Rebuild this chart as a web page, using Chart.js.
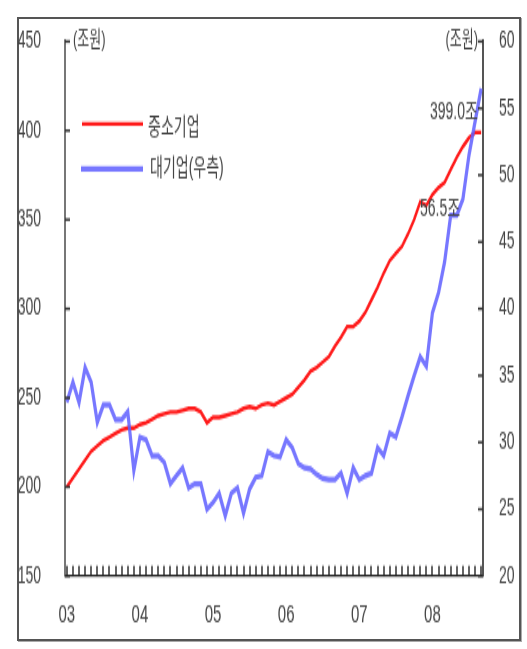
<!DOCTYPE html>
<html lang="ko">
<head>
<meta charset="UTF-8">
<title>중소기업·대기업 대출 잔액</title>
<script src="https://cdn.jsdelivr.net/npm/chart.js@4"></script>
<style>
    body { margin: 0; background: #fff; }
    .frame {
        position: absolute; left: 17px; top: 17px;
        width: 500px; height: 620px;
        border: 2px solid #555; box-shadow: 1px 1px 0 #aaa;
    }
    /* the chart is drawn short and stretched tall, like the printed original */
    #loanChart { position: absolute; left: 0; top: 0; transform: scaleY(1.7); transform-origin: 0 0; }
</style>
</head>
<body>
<div class="frame"></div>
<canvas id="loanChart" width="527" height="382"></canvas>
<script>
// year labels, one per January (month index 0, 12, 24 ...)
const yearLabels = ['03', '04', '05', '06', '07', '08'];

// 중소기업 대출 잔액, 조원, monthly from Jan 2003 (left axis)
const smeLoans = [
    200, 205, 210, 215, 220, 223, 226, 228, 230, 232, 233, 233,
    235, 236, 238, 240, 241, 242, 242, 243, 244, 244, 242, 236,
    239, 239, 240, 241, 242, 244, 245, 244, 246, 247, 246, 248,
    250, 252, 256, 260, 265, 267, 270, 273, 279, 284, 290, 290,
    293, 298, 305, 312, 320, 327, 331, 335, 342, 350, 360, 358,
    364, 368, 371, 378, 385, 391, 396, 399, 399.0
];

// 대기업 대출 잔액, 조원, monthly from Jan 2003 (right axis)
const largeLoans = [
    33.0, 34.5, 33.0, 35.6, 34.5, 31.5, 32.8, 32.8, 31.7, 31.7, 32.3, 27.9,
    30.4, 30.2, 29.0, 29.0, 28.5, 26.9, 27.5, 28.1, 26.6, 26.9, 26.9, 25.0,
    25.5, 26.2, 24.5, 26.2, 26.6, 24.7, 26.5, 27.4, 27.5, 29.3, 29.0, 28.9,
    30.2, 29.6, 28.4, 28.1, 28.0, 27.6, 27.3, 27.2, 27.2, 27.7, 26.2, 28.1,
    27.2, 27.5, 27.7, 29.6, 29.0, 30.7, 30.4, 31.9, 33.5, 35.0, 36.4, 35.7,
    39.7, 41.2, 43.5, 47.0, 47.0, 48.2, 51.5, 54.0, 56.5
];

const FONT = '"Liberation Sans", "Noto Sans CJK KR", sans-serif';
const TEXT = '#444';
Chart.defaults.font.family = FONT;
Chart.defaults.color = TEXT;

const toPoints = arr => arr.map((v, i) => ({ x: i, y: v }));

// inside tick marks, legend and value notes
const decorations = {
    id: 'decorations',
    afterDraw(chart) {
        const { ctx, chartArea: a, scales } = chart;
        ctx.save();
        ctx.strokeStyle = '#333';
        ctx.lineWidth = 1.5;
        scales.y.ticks.forEach(t => {
            const py = scales.y.getPixelForValue(t.value);
            ctx.beginPath(); ctx.moveTo(a.left, py); ctx.lineTo(a.left + 5, py); ctx.stroke();
        });
        scales.y1.ticks.forEach(t => {
            const py = scales.y1.getPixelForValue(t.value);
            ctx.beginPath(); ctx.moveTo(a.right - 5, py); ctx.lineTo(a.right, py); ctx.stroke();
        });
        ctx.strokeStyle = '#222';
        ctx.lineWidth = 1.4;
        for (let i = 0; i < smeLoans.length; i++) {
            const px = Math.round(scales.x.getPixelForValue(i));
            ctx.beginPath(); ctx.moveTo(px, a.bottom - 6); ctx.lineTo(px, a.bottom); ctx.stroke();
        }

        // legend
        const ds = chart.data.datasets;
        const rows = [
            { d: ds[1], x0: 82, x1: 143, y: 72.9, tx: 148, ty: 75 },
            { d: ds[0], x0: 81, x1: 143, y: 99.4, tx: 150, ty: 99 }
        ];
        ctx.font = '14px ' + FONT;
        ctx.textBaseline = 'middle';
        ctx.textAlign = 'left';
        rows.forEach(r => {
            ctx.strokeStyle = r.d.borderColor;
            ctx.lineWidth = r.d.borderWidth;
            ctx.beginPath(); ctx.moveTo(r.x0, r.y); ctx.lineTo(r.x1, r.y); ctx.stroke();
            ctx.fillStyle = TEXT;
            ctx.fillText(r.d.label, r.tx, r.ty);
        });

        // units and end values
        ctx.font = '13px ' + FONT;
        ctx.fillText('(조원)', 73, 23.5);
        ctx.textAlign = 'right';
        ctx.fillText('(조원)', 478, 23.5);
        ctx.font = '14px ' + FONT;
        ctx.textAlign = 'left';
        ctx.fillText(smeLoans[smeLoans.length - 1].toFixed(1) + '조', 430, 66);
        ctx.fillText(largeLoans[largeLoans.length - 1].toFixed(1) + '조', 420, 123.5);
        ctx.restore();
    }
};

new Chart(document.getElementById('loanChart'), {
    type: 'line',
    data: {
        datasets: [
            {
                label: '대기업(우측)',
                data: toPoints(largeLoans),
                yAxisID: 'y1',
                borderColor: 'rgba(95, 95, 255, 0.85)',
                borderWidth: 3.2,
                order: 0
            },
            {
                label: '중소기업',
                data: toPoints(smeLoans),
                yAxisID: 'y',
                borderColor: '#ff1a1a',
                borderWidth: 2.4,
                order: 1
            }
        ]
    },
    options: {
        responsive: false,
        devicePixelRatio: 1,
        animation: false,
        layout: { padding: { top: 23.5, left: 0, right: 0, bottom: 0 } },
        elements: { point: { radius: 0 }, line: { tension: 0 } },
        plugins: { legend: { display: false }, tooltip: { enabled: false } },
        scales: {
            x: {
                type: 'linear',
                min: -0.3,
                max: 68.3,
                grid: { display: false },
                border: { color: '#333', width: 1.3 },
                afterBuildTicks: s => { s.ticks = yearLabels.map((_, i) => ({ value: i * 12 })); },
                afterFit: s => { s.height = 43.2; },
                ticks: {
                    font: { size: 15 },
                    padding: 6.5,
                    maxRotation: 0,
                    autoSkip: false,
                    callback: v => yearLabels[v / 12]
                }
            },
            y: {
                position: 'left',
                min: 150,
                max: 450,
                grid: { display: false },
                border: { color: '#777', width: 2 },
                afterFit: s => { s.width = 65; },
                ticks: { stepSize: 50, font: { size: 14 }, padding: 16 }
            },
            y1: {
                position: 'right',
                min: 20,
                max: 60,
                grid: { display: false },
                border: { color: '#555', width: 2 },
                afterFit: s => { s.width = 44; },
                ticks: { stepSize: 5, font: { size: 14 }, padding: 8 }
            }
        }
    },
    plugins: [decorations]
});
</script>
</body>
</html>
